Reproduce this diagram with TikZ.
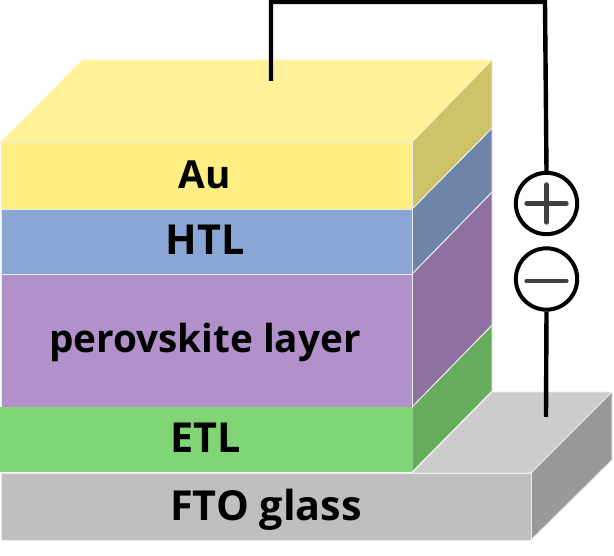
\documentclass[tikz,border=0pt]{standalone}
\usepackage{fontspec}
\setmainfont{Open Sans}
\usetikzlibrary{calc}
\definecolor{au front}{HTML}{FFEF82}
\definecolor{au top}{HTML}{FFF298}
\definecolor{au side}{HTML}{CDC468}
\definecolor{htl front}{HTML}{8AA6D4}
\definecolor{htl side}{HTML}{6F84A9}
\definecolor{per front}{HTML}{B291CB}
\definecolor{per side}{HTML}{8F71A1}
\definecolor{etl front}{HTML}{80D674}
\definecolor{etl side}{HTML}{66AC5D}
\definecolor{fto front}{HTML}{BFBFBF}
\definecolor{fto top}{HTML}{CCCCCC}
\definecolor{fto side}{HTML}{999999}
\begin{document}
\begin{tikzpicture}[x=0.75pt,y=-0.75pt,
           face/.style={draw=white!85!gray,line width=0.7pt,line join=round},
           wire/.style={line width=3.3pt},
           pole/.style={circle,draw,line width=3pt,fill=white,minimum size=46pt,inner sep=0pt},
           signline/.style={line width=3.2pt,line cap=round,draw=black!75},
           every node/.style={inner sep=2pt},
           tag/.style={anchor=base,font=\bfseries\fontsize{31}{36}\selectfont,text=black},
           smalltag/.style={anchor=base,font=\bfseries\fontsize{29}{34}\selectfont,text=black}]
           \useasboundingbox(0,0)rectangle(614,556);
           % substrate
           \fill[face,fill=fto top](412,473)--(492,392)--(612,392)--(531,473)--cycle;
           \fill[face,fill=fto side](531,473)--(612,392)--(612,460)--(531,540)--cycle;
           \fill[face,fill=fto front](1,473)rectangle(531,540);
           % stack, side faces
           \fill[face,fill=etl side](412,407)--(492,325)--(492,391)--(412,472)--cycle;
           \fill[face,fill=per side](412,274)--(492,192)--(492,325)--(412,407)--cycle;
           \fill[face,fill=htl side](412,209)--(492,128)--(492,192)--(412,274)--cycle;
           \fill[face,fill=au side](412,142)--(492,60)--(492,128)--(412,209)--cycle;
           \fill[fill=au top](1,142)--(82,60)--(492,60)--(412,142)--cycle;
           % stack, front faces
           \fill[face,fill=au front](1,142)rectangle(412,209);
           \fill[face,fill=htl front](1,209)rectangle(412,274);
           \fill[face,fill=per front](1,274)rectangle(412,407);
           \fill[fill=etl front](0,407)rectangle(412,472);
           \node[smalltag](au)at(205,189){Au};
           \node[tag](htl)at(205,254){HTL};
           \node[smalltag](per)at(205,352){perovskite layer};
           \node[tag](etl)at(206,452){ETL};
           \node[tag](fto)at(266,520){FTO glass};
           % source and wires
           \node[pole](plus)at(546.5,203.5){};
           \node[pole](minus)at(546.5,279){};
           \coordinate(contact)at(271,81);
           \coordinate(ground)at(546,417);
           \draw[wire](contact)--(271,2)--(545,2)--(plus.north);
           \draw[wire](minus.south)--(ground);
           \draw[signline]($(plus)+(-20,0)$)--($(plus)+(20,0)$);
           \draw[signline]($(plus)+(0,-19)$)--($(plus)+(0,19)$);
           \draw[signline]($(minus)+(-20,2)$)--($(minus)+(20,2)$);
         \end{tikzpicture}
\end{document}
